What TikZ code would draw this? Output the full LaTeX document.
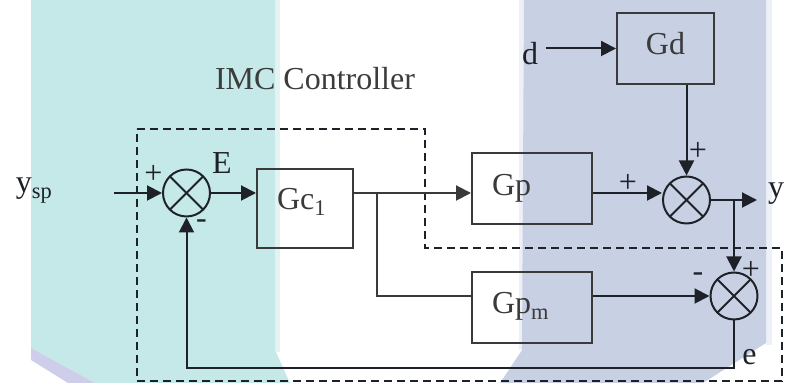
\documentclass[tikz,border=0pt]{standalone}
\usepackage{fontspec}
\setmainfont{Liberation Serif}
\usetikzlibrary{arrows.meta}

\definecolor{tealbg}{RGB}{197,233,232}
\definecolor{tealedge}{RGB}{226,243,242}
\definecolor{lilac}{RGB}{206,206,234}
\definecolor{bluebg}{RGB}{200,208,228}
\definecolor{blueedge}{RGB}{237,240,247}
\definecolor{linecol}{RGB}{30,34,40}
\definecolor{boxcol}{RGB}{58,58,58}
\definecolor{titlecol}{RGB}{60,60,60}

\begin{document}
\begin{tikzpicture}[
    x=0.5pt, y=-0.5pt,
    >={Triangle[length=7.5pt,width=7.5pt]},
    line width=1pt,
    font=\fontsize{16}{19}\selectfont,
    box/.style={
        draw=boxcol,
        text=boxcol,
        text height=11pt,
        text depth=4.5pt,
        minimum height=35.5pt,
        inner xsep=10pt,
        align=left
    },
    sumjunc/.style={
        draw=linecol,
        circle,
        minimum size=23.5pt,
        inner sep=0pt,
        path picture={
            \draw[linecol] (path picture bounding box.north west)
                -- (path picture bounding box.south east);
            \draw[linecol] (path picture bounding box.north east)
                -- (path picture bounding box.south west);
        }
    },
    lbl/.style={inner sep=0pt, text=linecol}
]

\useasboundingbox (0,0) rectangle (786,383);
\clip (0,0) rectangle (786,383);

\fill[tealbg] (31,0) -- (275,0) -- (275,350) -- (290,383) -- (95,383) -- (31,348) -- cycle;
\fill[tealedge] (275,0) rectangle (280,352);
\fill[lilac] (31,348) -- (95,383) -- (68,383) -- (31,360) -- cycle;
\fill[blueedge] (519,0) rectangle (524,350);
\fill[blueedge] (766,0) rectangle (772,345);
\fill[bluebg] (524,0) -- (766,0) -- (766,343) -- (703,383) -- (500,383) -- (522,350) -- cycle;

\draw[linecol, dash pattern=on 4pt off 2.5pt]
    (137,129) -- (425,129) -- (425,248) -- (782,248) -- (782,381) -- (137,381) -- cycle;

\node[lbl, anchor=base west] (ysp) at (15,193) {y\textsubscript{sp}};
\node[lbl, anchor=base west, text=titlecol] (imc) at (214,90) {IMC Controller};

\coordinate (in) at (114,193);
\node[sumjunc] (sum1) at (186.5,193) {};
\node[box, text width=28pt, text depth=9.5pt, minimum height=39.5pt] (gc) at (305,208.5)
    {Gc\textsubscript{1}};
\coordinate (br) at (377,193);

\node[box, text width=40pt] (gp) at (532,189) {Gp};
\node[box, text width=40pt] (gpm) at (532,307.5) {Gp\textsubscript{m}};
\node[box, text width=28.5pt, align=center] (gd) at (665.5,48.5) {Gd};
\node[anchor=base, text=linecol] (d) at (530,65) {d};

\node[sumjunc] (sum2) at (686.5,200) {};
\node[sumjunc] (sum3) at (734,296) {};
\coordinate (yend) at (757,200);
\node[lbl, anchor=base west] (y) at (767,198) {y};

\node[lbl] (p1) at (153.5,174.5) {+};
\node[lbl] (m1) at (201.5,224) {-};
\node[lbl] (E) at (222,163) {E};
\node[lbl] (p2) at (698,151) {+};
\node[lbl] (p3) at (628,183) {+};
\node[lbl] (m3) at (698,277) {-};
\node[lbl] (p4) at (751,270) {+};
\node[lbl, anchor=base] (e) at (749.5,365) {e};

\draw[->, linecol] (in) -- (sum1.west);
\draw[->, linecol] (sum1.east) -- (sum1.east -| gc.west);
\draw[boxcol] (sum1 -| gc.east) -- (br);
\draw[->, boxcol] (br) -- (sum1 -| gp.west);
\draw[boxcol] (br) |- (gpm.west |- sum3);
\draw[->, linecol] (gp.east |- sum1) -- (sum1 -| sum2.west);
\draw[->, linecol] (d.east |- gd) -- (gd.west);
\draw[->, linecol] (gd.south -| sum2.north) -- (sum2.north);
\draw[->, linecol] (sum2.east) -- (yend);
\draw[->, linecol] (sum2.east -| sum3.north) -- (sum3.north);
\draw[->, linecol] (gpm.east |- sum3) -- (sum3.west);
\draw[->, linecol] (sum3.south) -- ++(0,48) -| (sum1.south);

\end{tikzpicture}
\end{document}
